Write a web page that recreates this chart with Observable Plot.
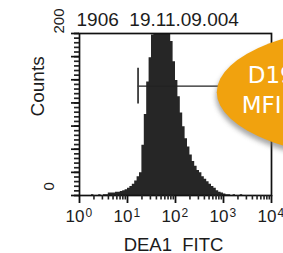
<!DOCTYPE html>
<html><head><meta charset="utf-8">
<script src="https://cdn.jsdelivr.net/npm/d3@7"></script>
<script src="https://cdn.jsdelivr.net/npm/@observablehq/plot@0.6"></script>
<style>html,body{margin:0;padding:0;background:#fff;overflow:hidden}</style>
</head><body><div id="chart"></div>
<script>
// histogram bins: start of each bin in log10 units (bin width 0.05 decade)
const binWidthLog = 0.05;
const binStartLog = d3.range(80).map(i => +(i * binWidthLog).toFixed(2));
const counts = [
  0, 0, 0, 0, 0, 1, 0, 0, 1, 0,
  1, 1, 3, 3, 3, 4, 4, 5, 6, 7,
  9, 11, 14, 18, 23, 28, 62, 100, 140, 170,
  198, 225, 240, 250, 252, 245, 230, 212, 190, 165,
  142, 122, 102, 85, 70, 60, 50, 42, 36, 31,
  28, 23, 20, 17, 14, 11, 9, 6, 4, 3,
  2, 1, 1, 0, 1, 0, 0, 1, 0, 0,
  0, 0, 0, 0, 0, 0, 0, 0, 0, 0
];
const xMajor = [1, 10, 100, 1000, 10000];
const xExponents = ["0", "1", "2", "3", "4"];
const xMinor = [1, 10, 100, 1000].flatMap(d => [2,3,4,5,6,7,8,9].map(m => m * d));
const yTickValues = d3.range(36).map(i => i * 200 / 35);
const yLongTicks = yTickValues.filter((d, i) => i % 5 === 0);
const topLabel = "1906  19.11.09.004";
const xLabel = "DEA1  FITC";
const yLabel = "Counts";
const gateLowLog = 1.22, gateHighLog = 4, gateCount = 135, gateHalf = 22;
const bubbleLines = ["D19", "MFI"];
const bubbleCenterLog = 6.62, bubbleCenterCount = 127;

const points = binStartLog.map((L, i) => ({x: 10 ** L, count: counts[i]}));
points.push({x: 10 ** 4, count: 0});

const ink = "#1c1c1c";
const chart = Plot.plot({
  width: 283, height: 253,
  marginLeft: 79, marginRight: 12, marginTop: 33, marginBottom: 58,
  x: {type: "log", domain: [1, 10000]},
  y: {domain: [0, 200]},
  style: {fontFamily: "'Liberation Sans', Arial, sans-serif", background: "#fff", color: ink},
  marks: [
    Plot.areaY(points, {x: "x", y: "count", curve: "step-after", fill: "#262626", clip: true}),
    Plot.ruleY([gateCount], {x1: 10 ** gateLowLog, x2: 10 ** gateHighLog, stroke: "#222", strokeWidth: 1.2}),
    Plot.ruleX([10 ** gateLowLog], {y1: gateCount - gateHalf, y2: gateCount + gateHalf, stroke: "#3a3a3a", strokeWidth: 1.8}),
    Plot.frame({stroke: "#111", strokeWidth: 1.7}),
    Plot.axisX(xMajor, {anchor: "bottom", tickSize: 8, tickFormat: () => "", strokeWidth: 1.8, label: null, stroke: "#111"}),
    Plot.axisX(xMinor, {anchor: "bottom", tickSize: 4.5, tickFormat: () => "", strokeWidth: 1.6, label: null, stroke: "#222"}),
    Plot.axisY(yTickValues, {anchor: "left", tickSize: 5, tickFormat: () => "", strokeWidth: 1.7, label: null, stroke: "#222"}),
    Plot.axisY(yLongTicks, {anchor: "left", tickSize: 8, tickFormat: () => "", strokeWidth: 1.7, label: null, stroke: "#111"}),
    Plot.text(xMajor, {x: d => d, text: () => "10", frameAnchor: "bottom", textAnchor: "end", lineAnchor: "bottom", dx: 5, dy: 26, fontSize: 17, fill: ink}),
    Plot.text(xMajor, {x: d => d, text: (d, i) => xExponents[i], frameAnchor: "bottom", textAnchor: "start", lineAnchor: "bottom", dx: 6, dy: 21, fontSize: 12, fill: ink}),
    Plot.text([xLabel], {frameAnchor: "bottom", lineAnchor: "bottom", dy: 55, dx: -2, fontSize: 18.5, fill: ink}),
    Plot.text([topLabel], {frameAnchor: "top-left", textAnchor: "start", lineAnchor: "bottom", dx: -3, dy: -8, fontSize: 19, fill: ink}),
    Plot.text(["200"], {frameAnchor: "top-left", rotate: -90, dx: -26, fontSize: 15, fill: ink}),
    Plot.text(["0"], {frameAnchor: "bottom-left", rotate: -90, dx: -26, dy: -5, fontSize: 15, fill: ink}),
    Plot.text([yLabel], {frameAnchor: "left", rotate: -90, dx: -42, dy: 2, fontSize: 19, fill: ink})
  ]
});
document.getElementById("chart").appendChild(chart);

// orange call-out bubble, positioned through the chart's scales
const sx = chart.scale("x").apply(10 ** bubbleCenterLog);
const sy = chart.scale("y").apply(bubbleCenterCount);
const svg = d3.select(chart);
const defs = svg.append("defs");
defs.append("filter").attr("id", "blur").attr("x", "-20%").attr("y", "-20%").attr("width", "140%").attr("height", "140%")
  .append("feGaussianBlur").attr("stdDeviation", 2.5);
const g = svg.append("g");
g.append("ellipse").attr("cx", sx - 1).attr("cy", sy + 4).attr("rx", 180).attr("ry", 69)
  .attr("fill", "#6e6e6e").attr("opacity", 0.6).attr("filter", "url(#blur)");
g.append("ellipse").attr("cx", sx).attr("cy", sy).attr("rx", 180).attr("ry", 69).attr("fill", "#F1A20E");
g.selectAll("text.b").data(bubbleLines).join("text").attr("class", "b")
  .attr("x", (d, i) => sx + (i === 0 ? -149 : -155))
  .attr("y", (d, i) => sy + (i === 0 ? -9 : 21))
  .attr("text-anchor", "start")
  .attr("fill", "#fff").attr("font-family", "'DejaVu Sans', Verdana, sans-serif").attr("font-size", 23)
  .text(d => d);
</script></body></html>
